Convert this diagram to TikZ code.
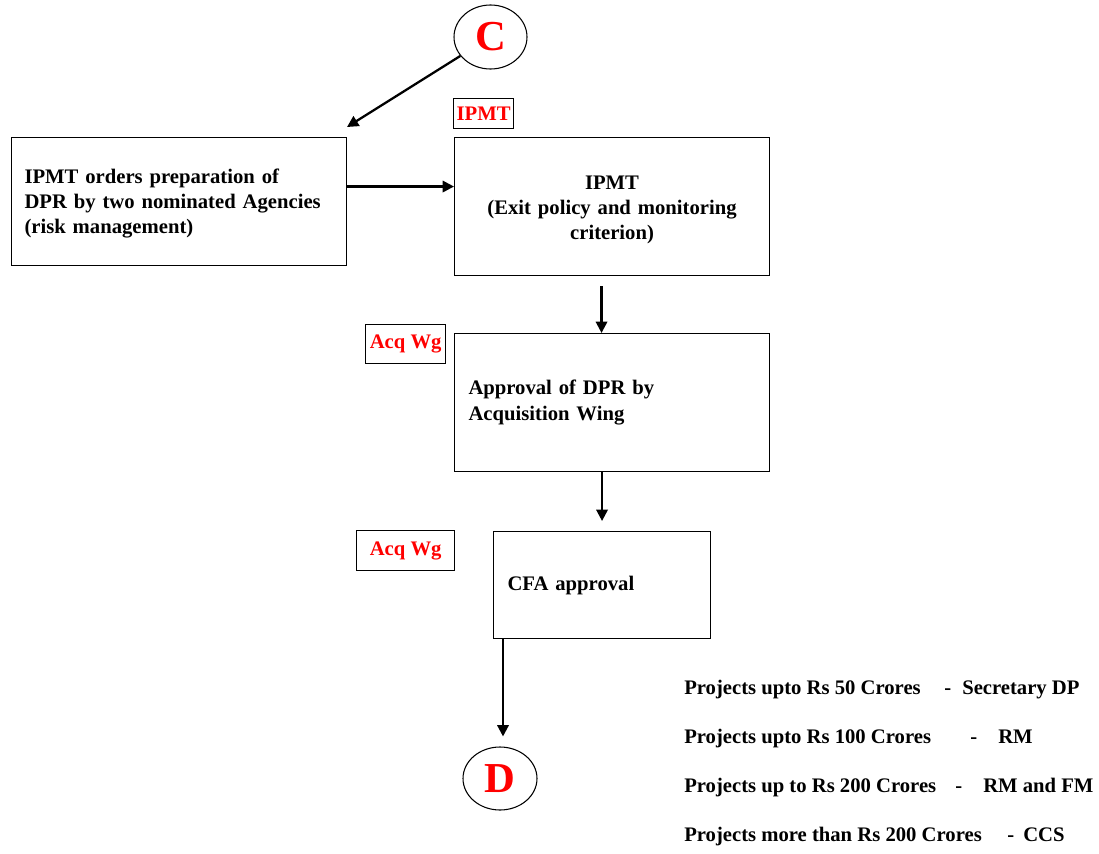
\documentclass[tikz,border=0pt]{standalone}
\usepackage{fontspec}
\setmainfont{Liberation Serif}
\usetikzlibrary{arrows.meta,shapes.geometric,calc}
\begin{document}
\begin{tikzpicture}[x=0.75pt,y=-0.75pt,
  txt/.style={font=\bfseries\fontsize{15.5}{19}\selectfont},
  box/.style={txt, draw, line width=0.8pt, anchor=north west, inner ysep=0pt},
  tag/.style={txt, draw, line width=1pt, text=red, anchor=north west, inner sep=0pt, align=center},
  term/.style={draw, ellipse, line width=0.8pt, text=red, inner sep=0pt,
    font=\bfseries\fontsize{32}{32}\selectfont},
  flow/.style={line width=1.7pt, -{Triangle[length=8.5pt,width=8.5pt]}},
  note/.style={txt, anchor=base west, inner sep=0pt}]
\useasboundingbox (0,0) rectangle (1099,853);

% start / end connectors
\node[term, minimum width=73*0.75pt, minimum height=64*0.75pt] (C) at (490.5,37) {C};
\node[term, minimum width=74*0.75pt, minimum height=63*0.75pt] (D) at (500,778.5) {D};

% process boxes
\node[box, minimum width=335*0.75pt, minimum height=128*0.75pt,
  text width=309*0.75pt, inner xsep=13*0.75pt, align=left] (b1) at (11,137)
  {\rule{0pt}{14pt}IPMT orders preparation of\\DPR by two nominated Agencies\\(risk management)};
\node[box, minimum width=315*0.75pt, minimum height=138*0.75pt,
  text width=295*0.75pt, inner xsep=10*0.75pt, align=center] (b2) at (454,137)
  {\rule{0pt}{15pt}IPMT\\(Exit policy and monitoring\\criterion)};
\node[box, minimum width=315*0.75pt, minimum height=138*0.75pt,
  text width=287*0.75pt, inner xsep=14*0.75pt, align=left] (b3) at (454,333)
  {Approval of DPR by\\Acquisition Wing};
\node[box, minimum width=217*0.75pt, minimum height=107*0.75pt,
  text width=189*0.75pt, inner xsep=14*0.75pt, align=left] (b4) at (493,531)
  {CFA approval};

% responsibility tags
\node[tag, minimum width=60*0.75pt, minimum height=30*0.75pt] (t1) at (453,98)
  {\raisebox{-3.5pt}{IPMT}};
\node[tag, minimum width=80*0.75pt, minimum height=39*0.75pt] (t2) at (365,324) {Acq Wg};
\node[tag, minimum width=98*0.75pt, minimum height=40*0.75pt] (t3) at (356,530) {Acq Wg};

% flow arrows
\coordinate (c1) at (347,127);
\draw[flow] (C) -- (c1);
\draw[flow] ([yshift=11.25pt]b1.east) -- ([yshift=11.25pt]b1.east -| b2.west);
\draw[flow] ([shift={(-10.5,10)}]b2.south) coordinate (s2) -- (s2 |- b3.north);
\draw[flow] (b3.south -| b4.north) -- ($(b4.north)+(0,-10)$);
\draw[flow] ([xshift=7.5pt]b4.south west) coordinate (s4) -- ($(s4 |- D.north)+(0,-10)$);

% approval authorities
\node[note] (r1a) at (684,694) {Projects upto Rs 50 Crores};
\node[note] (r1d) at (944,694) {-};
\node[note] (r1b) at (962,694) {Secretary DP};
\node[note] (r2a) at (684,743) {Projects upto Rs 100 Crores};
\node[note] (r2d) at (970,743) {-};
\node[note] (r2b) at (998,743) {RM};
\node[note] (r3a) at (684,792) {Projects up to Rs 200 Crores};
\node[note] (r3d) at (955,792) {-};
\node[note] (r3b) at (983,792) {RM and FM};
\node[note] (r4a) at (684,841) {Projects more than Rs 200 Crores};
\node[note] (r4d) at (1007,841) {-};
\node[note] (r4b) at (1023,841) {CCS};
\end{tikzpicture}
\end{document}
